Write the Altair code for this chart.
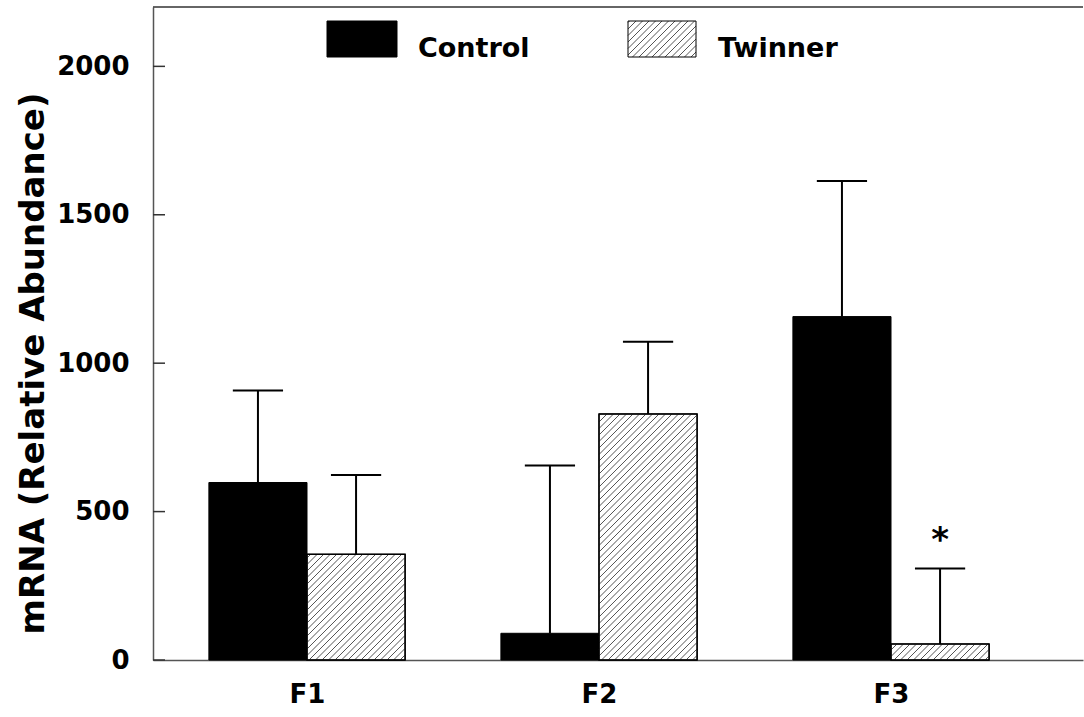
import json
import numpy as np
import pandas as pd
import altair as alt

# ---------------- data ----------------
categories = ["F1", "F2", "F3"]
groups = ["Control", "Twinner"]
control_mean = [598, 90, 1157]
control_err = [310, 565, 457]
twinner_mean = [356, 829, 54]
twinner_err = [267, 243, 254]
twinner_sig = ["", "", "*"]
y_ticks = [0, 500, 1000, 1500, 2000]
y_title = "mRNA (Relative Abundance)"

# ---------------- layout / style ----------------
W, H = 930, 653
Y_MAX = 2200
X_MIN, X_MAX = 0.4726, 3.6575
BAR_W = 0.336
CAP_HALF = 0.086
HATCH_STEP = 6.5
FONT = "DejaVu Sans"

kx = W / (X_MAX - X_MIN)
ky = H / Y_MAX

rows = []
for i, cat in enumerate(categories):
    c = i + 1
    for g, means, errs, sigs, x0 in (
        (groups[0], control_mean, control_err, ["", "", ""], c - BAR_W),
        (groups[1], twinner_mean, twinner_err, twinner_sig, c),
    ):
        xc = x0 + BAR_W / 2
        rows.append(dict(cat=cat, group=g, x0=x0, x1=x0 + BAR_W, xc=xc,
                         cap0=xc - CAP_HALF, cap1=xc + CAP_HALF,
                         mean=means[i], top=means[i] + errs[i], sig=sigs[i]))
bars = pd.DataFrame(rows)


def hatch(x0p, x1p, y0p, y1p, step):
    """45-degree '/' segments clipped to a box, y pointing up."""
    segs = []
    c = np.floor((x0p - y1p) / step) * step
    while c < x1p - y0p:
        lo = max(x0p, y0p + c)
        hi = min(x1p, y1p + c)
        if hi - lo > 0.3:
            segs.append((lo, lo - c, hi, hi - c))
        c += step
    return segs


# legend geometry (pixels relative to plot origin, y down)
LEG = [(174, 244), (475, 543)]
LEG_Y = (14, 50)
LEG_TEXT_X = [265, 565]

hrows = []
for _, r in bars[bars.group == groups[1]].iterrows():
    for (ax, ay, bx, by) in hatch((r.x0 - X_MIN) * kx, (r.x1 - X_MIN) * kx,
                                  0.0, r["mean"] * ky, HATCH_STEP):
        hrows.append(dict(xa=ax / kx + X_MIN, ya=ay / ky,
                          xb=bx / kx + X_MIN, yb=by / ky))
# legend swatch hatch, converted into data units
for (ax, ay, bx, by) in hatch(LEG[1][0], LEG[1][1], H - LEG_Y[1], H - LEG_Y[0], HATCH_STEP):
    hrows.append(dict(xa=ax / kx + X_MIN, ya=ay / ky,
                      xb=bx / kx + X_MIN, yb=by / ky))
hatch_df = pd.DataFrame(hrows)

xscale = alt.Scale(domain=[X_MIN, X_MAX], nice=False, zero=False)
yscale = alt.Scale(domain=[0, Y_MAX], nice=False)

label_expr = json.dumps(categories) + "[round(datum.value) - 1]"

X_AXIS = alt.Axis(values=[1, 2, 3], labelExpr=label_expr, ticks=False,
                  grid=False, domainColor="#555", domainWidth=1.5,
                  labelFont=FONT, labelFontWeight="bold", labelFontSize=26,
                  labelColor="black", labelPadding=21, title=None)
Y_AXIS = alt.Axis(values=y_ticks, format="d", ticks=False, grid=False,
                  domainColor="#555", domainWidth=1.5,
                  labelFont=FONT, labelFontWeight="bold", labelFontSize=26,
                  labelColor="black", labelPadding=24,
                  title=y_title, titleFont=FONT, titleFontWeight="bold",
                  titleFontSize=34, titleColor="black", titleAngle=270,
                  titleAlign="center", titleBaseline="alphabetic",
                  titleX=-110, titleY=356)


def X(f):
    return alt.X(f, scale=xscale, axis=X_AXIS)


def Y(f):
    return alt.Y(f, scale=yscale, axis=Y_AXIS)


base = alt.Chart(bars)

fills = base.mark_rect(stroke="black", strokeWidth=1).encode(
    x=X("x0:Q"), x2="x1:Q",
    y=Y("mean:Q"), y2=alt.datum(0),
    fill=alt.Fill("group:N", scale=alt.Scale(domain=groups, range=["black", "white"]),
                  legend=None),
)

hatch_layer = alt.Chart(hatch_df).mark_rule(stroke="#555", strokeWidth=1).encode(
    x=X("xa:Q"), x2="xb:Q",
    y=Y("ya:Q"), y2="yb:Q",
)

outline = base.transform_filter(alt.datum.group == groups[1]).mark_rect(
    fillOpacity=0, stroke="black", strokeWidth=1.5).encode(
    x=X("x0:Q"), x2="x1:Q",
    y=Y("mean:Q"), y2=alt.datum(0),
)

err_v = base.mark_rule(stroke="black", strokeWidth=2).encode(
    x=X("xc:Q"), y=Y("mean:Q"), y2="top:Q",
)
err_cap = base.mark_rule(stroke="black", strokeWidth=2).encode(
    x=X("cap0:Q"), x2="cap1:Q", y=Y("top:Q"),
)
sig = base.transform_filter(alt.datum.sig != "").mark_text(
    font=FONT, fontWeight="bold", fontSize=34, dy=-28, baseline="middle",
    color="black").encode(
    x=X("xc:Q"), y=Y("top:Q"), text="sig:N",
)

ticks = alt.Chart(pd.DataFrame({"v": y_ticks})).mark_rule(
    stroke="#333", strokeWidth=1.5).encode(
    y=Y("v:Q"), x=alt.value(0), x2=alt.value(12),
)

top_border = alt.Chart(pd.DataFrame({"v": [Y_MAX]})).mark_rule(
    stroke="#333", strokeWidth=1.5).encode(
    y=Y("v:Q"), x=alt.value(0), x2=alt.value(W),
)

legend_layers = []
for i, g in enumerate(groups):
    legend_layers.append(
        alt.Chart(pd.DataFrame({"g": [g]})).mark_rect(
            fill="black" if i == 0 else "white", stroke="black", strokeWidth=1,
            fillOpacity=1 if i == 0 else 0).encode(
            x=alt.value(LEG[i][0]), x2=alt.value(LEG[i][1]),
            y=alt.value(LEG_Y[0]), y2=alt.value(LEG_Y[1]))
    )
    legend_layers.append(
        alt.Chart(pd.DataFrame({"g": [g]})).mark_text(
            font=FONT, fontWeight="bold", fontSize=27, align="left",
            baseline="alphabetic", color="black").encode(
            x=alt.value(LEG_TEXT_X[i]), y=alt.value(LEG_Y[1]), text="g:N")
    )

chart = alt.layer(
    fills, hatch_layer, outline, err_v, err_cap, sig, ticks, top_border,
    *legend_layers
).properties(
    width=W, height=H,
    autosize=alt.AutoSizeParams(type="none"),
    padding={"left": 153, "top": 7, "right": 1, "bottom": 57},
    background="white",
).configure_view(stroke=None)

chart.save("out.html", embed_options={"renderer": "svg", "actions": False})
